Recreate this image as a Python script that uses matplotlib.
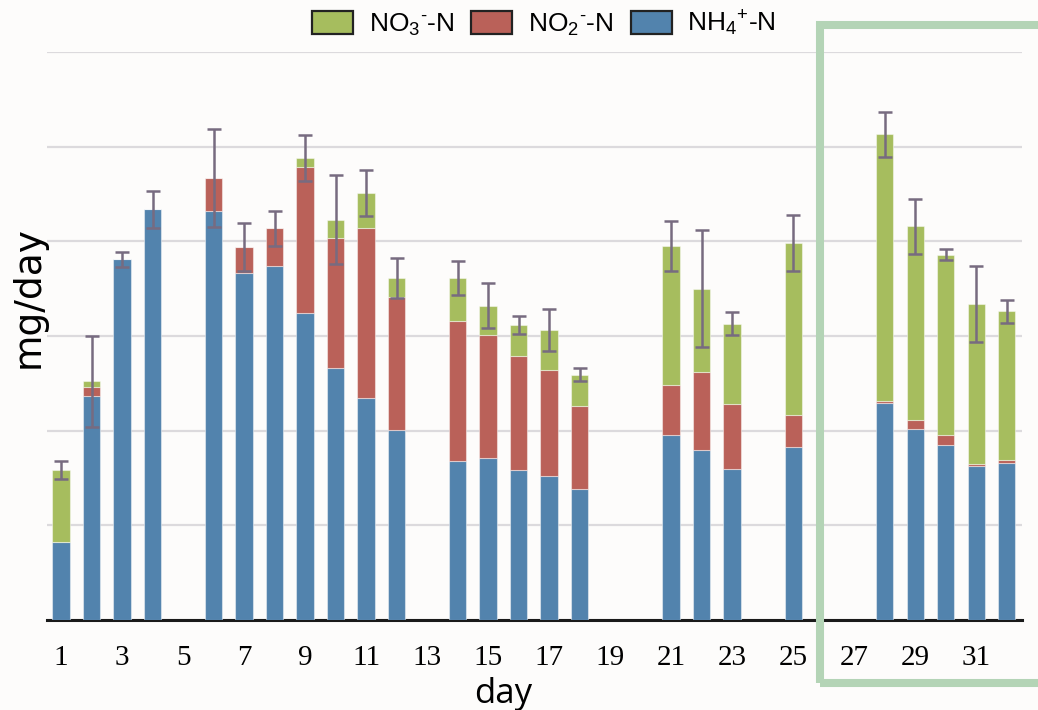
import numpy as np
import matplotlib
matplotlib.use("Agg")
import matplotlib.pyplot as plt
from matplotlib.patches import Rectangle, Patch

days = [1, 2, 3, 4, 6, 7, 8, 9, 10, 11, 12, 14, 15, 16, 17, 18, 21, 22, 23, 25, 28, 29, 30, 31, 32]
nh4 = [8.2, 23.7, 38.1, 43.4, 43.2, 36.7, 37.4, 32.4, 26.6, 23.4, 20.1, 16.8, 17.1, 15.8, 15.2, 13.8,
       19.5, 18.0, 16.0, 18.3, 22.95, 20.2, 18.5, 16.3, 16.6]
no2 = [0.0, 0.9, 0.0, 0.0, 3.5, 2.7, 4.0, 15.5, 13.7, 18.0, 14.0, 14.8, 13.0, 12.1, 11.2, 8.8,
       5.3, 8.2, 6.8, 3.4, 0.15, 0.9, 1.0, 0.15, 0.3]
no3 = [7.6, 0.6, 0.0, 0.0, 0.0, 0.0, 0.0, 0.9, 2.0, 3.7, 2.0, 4.5, 3.1, 3.3, 4.2, 3.3,
       14.7, 8.8, 8.5, 18.1, 28.2, 20.5, 19.1, 16.9, 15.7]
err = [0.95, 4.85, 0.82, 1.95, 5.2, 2.5, 1.85, 2.45, 4.7, 2.4, 2.1, 1.8, 2.35, 0.95, 2.2, 0.7,
       2.6, 6.2, 1.2, 2.95, 2.4, 2.9, 0.55, 4.0, 1.2]
xtick_days = list(range(1, 33, 2))
legend_labels = [r'NO$_3$$^{\text{-}}$-N', r'NO$_2$$^{\text{-}}$-N', r'NH$_4$$^{+}$-N']

c_nh4 = '#5283ad'
c_no2 = '#ba6159'
c_no3 = '#a6bd5e'
c_err = '#776b80'
bg = '#fdfcfb'

plt.rcParams['mathtext.fontset'] = 'custom'
plt.rcParams['mathtext.rm'] = 'Liberation Sans'
plt.rcParams['mathtext.it'] = 'Liberation Sans'

fig = plt.figure(figsize=(10.38, 7.1), dpi=100, facecolor=bg)
ax = fig.add_axes([47/1038, 1-620/710, (1022-47)/1038, (620-52)/710])
ax.set_facecolor(bg)

x = np.array(days, dtype=float)
nh4a = np.array(nh4); no2a = np.array(no2); no3a = np.array(no3)
w = 0.57
ekw = dict(edgecolor=(1, 1, 1, 0.45), linewidth=0.8, zorder=3)
ax.bar(x, nh4a, w, color=c_nh4, **ekw)
ax.bar(x, no2a, w, bottom=nh4a, color=c_no2, **ekw)
ax.bar(x, no3a, w, bottom=nh4a + no2a, color=c_no3, **ekw)
tot = nh4a + no2a + no3a
ax.errorbar(x, tot, yerr=np.array(err), fmt='none', ecolor=c_err, elinewidth=1.8,
            capsize=5, capthick=1.8, zorder=4)

ax.set_xlim(0.54, 32.5)
ax.set_ylim(0, 60)
ax.set_yticks(np.arange(0, 61, 10))
ax.yaxis.grid(True, color='#dcdadd', linewidth=1.6, zorder=0)
ax.set_axisbelow(True)
ax.tick_params(axis='y', length=0, labelleft=False)
ax.set_xticks(xtick_days)
ax.set_xticklabels([str(d) for d in xtick_days], fontfamily='Liberation Serif', fontsize=21)
ax.tick_params(axis='x', length=0, pad=18)
for s in ['top', 'right', 'left']:
    ax.spines[s].set_visible(False)
ax.spines['bottom'].set_linewidth(2.2)
ax.spines['bottom'].set_color('#1a1a1a')

ax.set_xlabel('day', fontsize=25, fontfamily='Open Sans')
ax.xaxis.label.set_va('baseline')
ax.xaxis.set_label_coords(0.468, (620-703)/568)
ax.set_ylabel('mg/day', fontsize=27, fontfamily='DejaVu Sans')
ax.yaxis.set_label_coords(0.0, (620-297)/568)

handles = [Patch(facecolor=c_no3, edgecolor='#222222', linewidth=1.6),
           Patch(facecolor=c_no2, edgecolor='#222222', linewidth=1.6),
           Patch(facecolor=c_nh4, edgecolor='#222222', linewidth=1.6)]
leg = fig.legend(handles, legend_labels, loc='center', bbox_to_anchor=(0.524, 0.967), ncol=3,
                 frameon=False, prop={'family': 'Liberation Sans', 'size': 19},
                 handlelength=1.55, handleheight=1.0, handletextpad=0.6, columnspacing=0.65,
                 borderaxespad=0, borderpad=0)

rect = Rectangle((820/1038, 1-683/710), 0.3, (683-25)/710, transform=fig.transFigure,
                 fill=False, edgecolor='#b4d4b6', linewidth=5.8, zorder=10, clip_on=False)
fig.patches.append(rect)

fig.savefig('out.png', dpi=100, facecolor=bg)
